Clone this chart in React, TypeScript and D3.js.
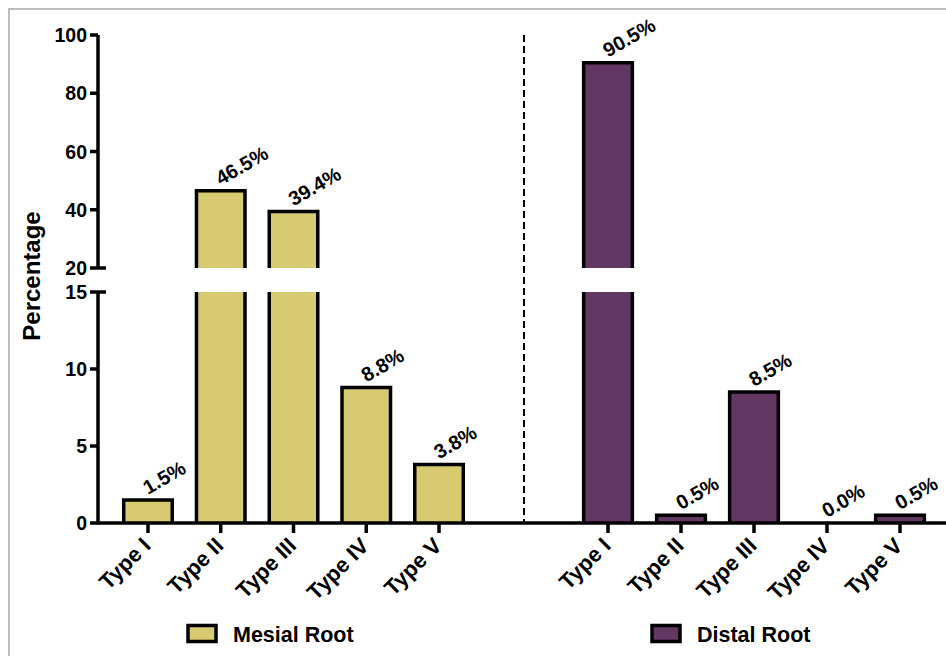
import React from "react";
import * as d3 from "d3";

const categories = ["Type I", "Type II", "Type III", "Type IV", "Type V"];
const mesialValues = [1.5, 46.5, 39.4, 8.8, 3.8];
const distalValues = [90.5, 0.5, 8.5, 0.0, 0.5];
const lowerTicks = [0, 5, 10, 15];
const upperTicks = [20, 40, 60, 80, 100];
const seriesNames = ["Mesial Root", "Distal Root"];
const seriesColors = ["#d7ca71", "#633763"];

const W = 946;
const H = 656;
const FONT = "'Liberation Sans', Arial, Helvetica, sans-serif";

export default function App() {
  const axisX = 98;
  const yLow = d3.scaleLinear().domain([0, 15]).range([523, 292]);
  const yHigh = d3.scaleLinear().domain([20, 100]).range([268, 35]);
  const breakLow = 15;
  const breakHigh = 20;

  const xMesial = d3
    .scaleBand<string>()
    .domain(categories)
    .range([111.6, 475.4])
    .paddingInner(0.333)
    .paddingOuter(0.1665);
  const xDistal = d3
    .scaleBand<string>()
    .domain(categories)
    .range([571.5, 936.5])
    .paddingInner(0.333)
    .paddingOuter(0.1665);

  const groups = [
    { x: xMesial, values: mesialValues, color: seriesColors[0] },
    { x: xDistal, values: distalValues, color: seriesColors[1] },
  ];

  const strokeW = 3.5;
  const base = yLow(0);

  const renderBar = (x: d3.ScaleBand<string>, cat: string, v: number, color: string, key: string) => {
    const x0 = x(cat)!;
    const bw = x.bandwidth();
    const x1 = x0 + bw;
    const els: React.ReactNode[] = [];
    if (v <= 0) return els;
    if (v <= breakLow) {
      const top = yLow(v);
      els.push(<rect key={key + "f"} x={x0} y={top} width={bw} height={base - top} fill={color} />);
      els.push(
        <path
          key={key + "s"}
          d={`M${x0},${base}V${top}H${x1}V${base}`}
          fill="none"
          stroke="#000"
          strokeWidth={strokeW}
          strokeLinejoin="miter"
        />
      );
    } else {
      const lowTop = yLow(breakLow);
      els.push(<rect key={key + "lf"} x={x0} y={lowTop} width={bw} height={base - lowTop} fill={color} />);
      els.push(
        <path
          key={key + "ls"}
          d={`M${x0},${base}V${lowTop}M${x1},${lowTop}V${base}`}
          fill="none"
          stroke="#000"
          strokeWidth={strokeW}
        />
      );
      const hb = yHigh(breakHigh);
      const top = yHigh(v);
      els.push(<rect key={key + "hf"} x={x0} y={top} width={bw} height={hb - top} fill={color} />);
      els.push(
        <path
          key={key + "hs"}
          d={`M${x0},${hb}V${top}H${x1}V${hb}`}
          fill="none"
          stroke="#000"
          strokeWidth={strokeW}
        />
      );
    }
    return els;
  };

  const barTop = (v: number) => (v <= breakLow ? yLow(v) : yHigh(v));

  return (
    <svg
      width={W}
      height={H}
      style={{ position: "absolute", left: 0, top: 0, background: "#fff" }}
      fontFamily={FONT}
    >
      <rect x={0} y={0} width={W} height={H} fill="#fff" />
      {/* border */}
      <path d={`M9,${H + 2}V9H${W + 2}`} fill="none" stroke="#bdbdbd" strokeWidth={2} />

      {/* bars */}
      {groups.map((g, gi) =>
        categories.map((c, i) => renderBar(g.x, c, g.values[i], g.color, `b${gi}-${i}`))
      )}

      {/* value labels */}
      {groups.map((g, gi) =>
        categories.map((c, i) => {
          const cx = g.x(c)! + g.x.bandwidth() / 2;
          const ty = barTop(g.values[i]);
          const px = cx;
          const py = ty - 5;
          return (
            <text
              key={`l${gi}-${i}`}
              x={px}
              y={py}
              transform={`rotate(-30 ${px} ${py})`}
              fontSize={20}
              fontWeight="bold"
              textAnchor="start"
              fill="#000"
            >
              {g.values[i].toFixed(1)}%
            </text>
          );
        })
      )}

      {/* y axis */}
      <line x1={axisX} x2={axisX} y1={yHigh(100)} y2={yHigh(20)} stroke="#000" strokeWidth={strokeW} />
      <line x1={axisX} x2={axisX} y1={yLow(15)} y2={yLow(0)} stroke="#000" strokeWidth={strokeW} />
      {upperTicks.map((t) => (
        <g key={`ut${t}`}>
          <line
            x1={90}
            x2={t === breakHigh ? 106 : axisX}
            y1={yHigh(t)}
            y2={yHigh(t)}
            stroke="#000"
            strokeWidth={strokeW}
          />
          <text x={87} y={yHigh(t)} dy="0.36em" textAnchor="end" fontSize={19.5} fontWeight="bold">
            {t}
          </text>
        </g>
      ))}
      {lowerTicks.map((t) => (
        <g key={`lt${t}`}>
          <line
            x1={90}
            x2={t === breakLow ? 106 : axisX}
            y1={yLow(t)}
            y2={yLow(t)}
            stroke="#000"
            strokeWidth={strokeW}
          />
          <text x={87} y={yLow(t)} dy="0.36em" textAnchor="end" fontSize={19.5} fontWeight="bold">
            {t}
          </text>
        </g>
      ))}
      <text
        x={40}
        y={276}
        transform="rotate(-90 40 276)"
        textAnchor="middle"
        fontSize={24}
        fontWeight="bold"
      >
        Percentage
      </text>

      {/* x axis */}
      <line x1={axisX - strokeW / 2} x2={W} y1={base} y2={base} stroke="#000" strokeWidth={strokeW} />
      {groups.map((g, gi) =>
        categories.map((c, i) => {
          const cx = g.x(c)! + g.x.bandwidth() / 2;
          const px = cx + 4;
          const py = 547;
          return (
            <g key={`xt${gi}-${i}`}>
              <line x1={cx} x2={cx} y1={base} y2={base + 10} stroke="#000" strokeWidth={strokeW} />
              <text
                x={px}
                y={py}
                transform={`rotate(-45 ${px} ${py})`}
                textAnchor="end"
                fontSize={22}
                fontWeight="bold"
              >
                {c}
              </text>
            </g>
          );
        })
      )}

      {/* dashed separator */}
      <line x1={524} x2={524} y1={yHigh(100)} y2={base} stroke="#000" strokeWidth={2} strokeDasharray="7,4" />

      {/* legend */}
      {seriesNames.map((n, i) => {
        const lx = i === 0 ? 188 : 652;
        return (
          <g key={`lg${i}`}>
            <rect x={lx} y={625.5} width={28} height={16} fill={seriesColors[i]} stroke="#000" strokeWidth={strokeW} />
            <text x={lx + 45} y={634} dy="0.36em" fontSize={21.5} fontWeight="bold">
              {n}
            </text>
          </g>
        );
      })}
    </svg>
  );
}
